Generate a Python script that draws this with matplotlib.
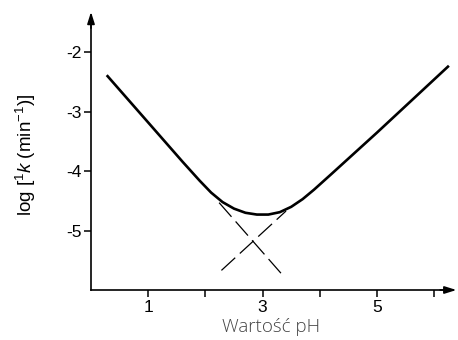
import numpy as np
import matplotlib
matplotlib.use('Agg')
import matplotlib.pyplot as plt

# curve (pH, log k)
ph = [0.29, 1.00, 1.60, 1.90, 2.10, 2.30, 2.50, 2.70, 2.90, 3.10, 3.30,
      3.50, 3.70, 3.90, 4.20, 5.00, 6.24]
logk = [-2.40, -3.18, -3.84, -4.16, -4.36, -4.52, -4.63, -4.70, -4.73, -4.73,
        -4.69, -4.60, -4.47, -4.31, -4.05, -3.35, -2.24]

# dashed asymptotes
asym_a_x = [2.24, 3.36]
asym_a_y = [-4.53, -5.76]
asym_b_x = [2.28, 3.41]
asym_b_y = [-5.67, -4.67]

yticks = [-2, -3, -4, -5]
xticks = [1, 2, 3, 4, 5, 6]
xticklabels = ['1', '', '3', '', '5', '']

plt.rcParams['font.family'] = ['Liberation Sans', 'DejaVu Sans']
plt.rcParams['axes.unicode_minus'] = False
plt.rcParams['mathtext.fontset'] = 'custom'
plt.rcParams['mathtext.rm'] = 'Liberation Sans'
plt.rcParams['mathtext.it'] = 'Liberation Sans:italic'

fig = plt.figure(figsize=(4.58, 3.40), dpi=100)
ax = fig.add_axes([91/458, 50/340, (451-91)/458, (290-20)/340])

ax.plot(ph, logk, color='k', lw=1.9, solid_joinstyle='round')
ax.plot(asym_a_x, asym_a_y, color='k', lw=0.9, dashes=(15, 5))
ax.plot(asym_b_x, asym_b_y, color='k', lw=0.9, dashes=(15, 5))

ax.set_xlim(0, 360/57.2)
ax.set_ylim(-6, -6 + 270/59.4)

for s in ['top', 'right']:
    ax.spines[s].set_visible(False)
for s in ['left', 'bottom']:
    ax.spines[s].set_linewidth(1.2)

ax.set_yticks(yticks)
ax.set_yticklabels([str(v) for v in yticks])
ax.set_xticks(xticks)
ax.set_xticklabels(xticklabels)
ax.tick_params(direction='out', length=5, width=1.1, labelsize=12.5, pad=2)

# arrow heads on axes
ax.annotate('', xy=(1.015, 0), xycoords='axes fraction', xytext=(0.97, 0),
            arrowprops=dict(arrowstyle='-|>,head_length=0.7,head_width=0.22',
                            color='k', lw=1.2, shrinkA=0, shrinkB=0))
ax.annotate('', xy=(0, 1.03), xycoords='axes fraction', xytext=(0, 0.97),
            arrowprops=dict(arrowstyle='-|>,head_length=0.7,head_width=0.22',
                            color='k', lw=1.2, shrinkA=0, shrinkB=0))

ax.set_ylabel(r'log [$^{1}\mathit{k}$ (min$^{-1}$)]', fontsize=13.5, labelpad=20)
ax.set_xlabel('Wartość pH', fontsize=13.5, color='#444444',
              family=['Open Sans', 'DejaVu Sans'], fontweight='light', labelpad=2)

fig.savefig('out.png', dpi=100)
